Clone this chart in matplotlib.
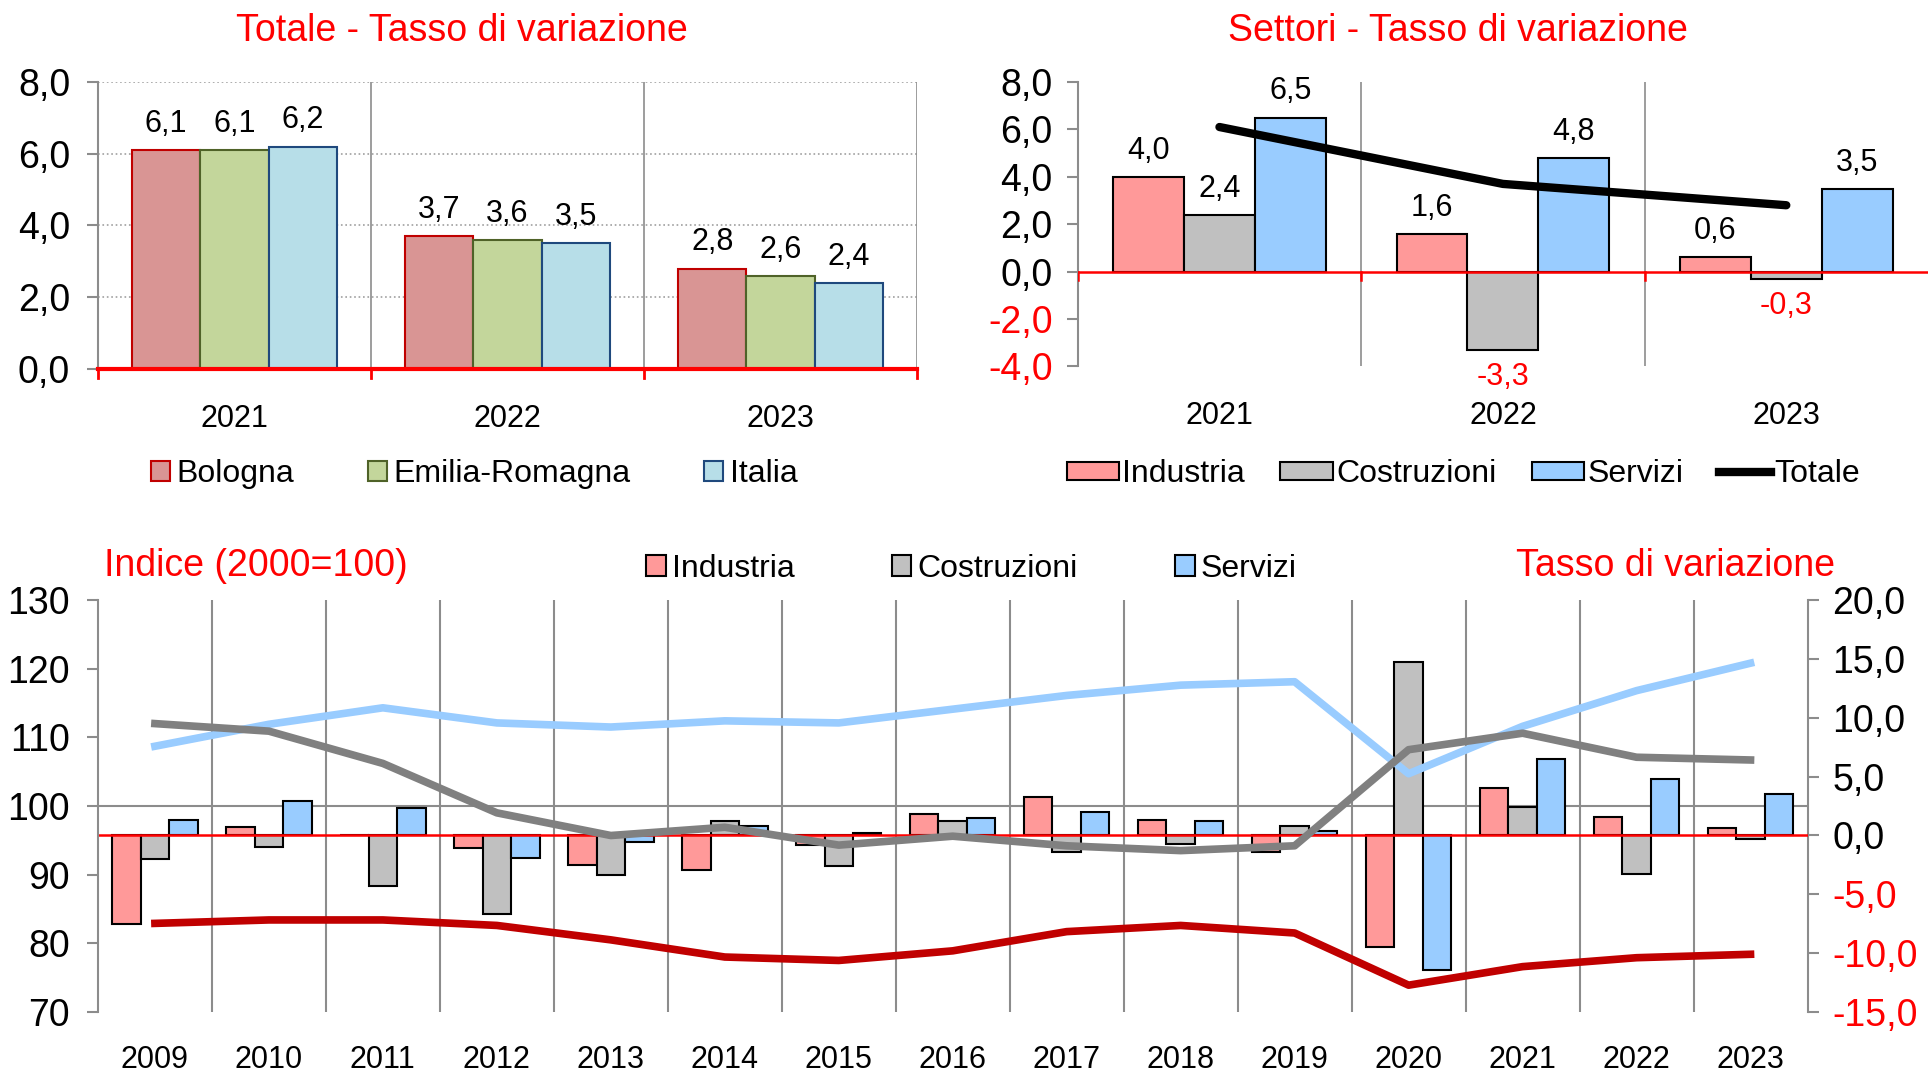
import numpy as np
import matplotlib.pyplot as plt
from matplotlib.transforms import blended_transform_factory
from matplotlib.lines import Line2D
from matplotlib.patches import Patch

plt.rcParams['font.family'] = ['Liberation Sans', 'DejaVu Sans']

# -------------------------
# Data
# -------------------------
anni_top = ['2021', '2022', '2023']
bologna = [6.1, 3.7, 2.8]
emilia = [6.1, 3.6, 2.6]
italia = [6.2, 3.5, 2.4]

ind_top = [4.0, 1.6, 0.6]
cos_top = [2.4, -3.3, -0.3]
ser_top = [6.5, 4.8, 3.5]
tot_top = [6.1, 3.7, 2.8]

anni = ['2009', '2010', '2011', '2012', '2013', '2014', '2015', '2016',
        '2017', '2018', '2019', '2020', '2021', '2022', '2023']
# tasso di variazione (barre, asse destro)
ind_var = [-7.5, 0.7, 0.0, -1.1, -2.5, -2.9, -0.8, 1.8, 3.3, 1.3, -1.4, -9.5, 4.0, 1.6, 0.6]
cos_var = [-2.0, -1.0, -4.3, -6.7, -3.4, 1.2, -2.6, 1.2, -1.4, -0.7, 0.8, 14.7, 2.4, -3.3, -0.3]
ser_var = [1.3, 2.9, 2.3, -1.9, -0.6, 0.8, 0.2, 1.5, 2.0, 1.2, 0.4, -11.4, 6.5, 4.8, 3.5]
# indice 2000=100 (linee, asse sinistro)
ind_idx = [82.9, 83.4, 83.4, 82.6, 80.5, 78.0, 77.5, 78.9, 81.7, 82.6, 81.5, 73.9, 76.6, 77.9, 78.4]
cos_idx = [112.0, 110.9, 106.2, 99.0, 95.7, 96.9, 94.3, 95.6, 94.2, 93.5, 94.2, 108.2, 110.6, 107.1, 106.7]
ser_idx = [108.7, 111.9, 114.3, 112.1, 111.5, 112.4, 112.1, 114.1, 116.1, 117.6, 118.1, 104.7, 111.6, 116.8, 120.8]

# colours
C_BOL, E_BOL = '#d99594', '#c00000'
C_EMI, E_EMI = '#c3d69b', '#4f6228'
C_ITA, E_ITA = '#b7dee8', '#1f497d'
C_IND, C_COS, C_SER = '#ff9999', '#c0c0c0', '#99ccff'
L_IND, L_COS, L_SER = '#c00000', '#808080', '#99ccff'
GRID = '#8c8c8c'
RED = '#ff0000'


def fmt(v):
    return f'{v:.1f}'.replace('.', ',')


fig = plt.figure(figsize=(19.28, 10.73), dpi=100)

# -------------------------
# Top left: Totale
# -------------------------
ax1 = fig.add_axes([0.0508, 0.6561, 0.4248, 0.2675])
x = np.arange(len(anni_top))
w = 0.25
for off, vals, fc, ec, lab in [(-w, bologna, C_BOL, E_BOL, 'Bologna'),
                               (0, emilia, C_EMI, E_EMI, 'Emilia-Romagna'),
                               (w, italia, C_ITA, E_ITA, 'Italia')]:
    bars = ax1.bar(x + off, vals, w, color=fc, edgecolor=ec, linewidth=1.5,
                   label=lab, zorder=3)
    for b, v in zip(bars, vals):
        ax1.annotate(fmt(v), (b.get_x() + b.get_width() / 2, v),
                     xytext=(0, 8), textcoords='offset points',
                     ha='center', va='bottom', fontsize=22)
ax1.set_xlim(-0.5, 2.5)
ax1.set_ylim(0, 8)
ax1.set_yticks([0, 2, 4, 6, 8])
ax1.set_yticklabels([fmt(v) for v in [0, 2, 4, 6, 8]])
for yv in [2, 4, 6, 8]:
    ax1.axhline(yv, color='#a0a0a0', lw=1.2, ls=':', zorder=1)
for xv in [0.5, 1.5, 2.5]:
    ax1.axvline(xv, color=GRID, lw=1.2, zorder=1)
ax1.axhline(0, color=RED, lw=3, zorder=4, clip_on=False)
for xv in [-0.5, 0.5, 1.5, 2.5]:
    ax1.plot([xv, xv], [0, -0.25], color=RED, lw=2, clip_on=False, zorder=4)
for s in ['top', 'right', 'bottom']:
    ax1.spines[s].set_visible(False)
ax1.spines['left'].set_color(GRID)
ax1.spines['left'].set_linewidth(1.5)
ax1.tick_params(axis='y', labelsize=27, color=GRID, width=1.5, length=8, pad=12)
ax1.set_xticks(x)
ax1.set_xticklabels(anni_top)
ax1.tick_params(axis='x', length=0, labelsize=22, pad=25)
fig.text(0.2397, 0.971, 'Totale - Tasso di variazione', color=RED,
         fontsize=27, ha='center', va='center')
h1, l1 = ax1.get_legend_handles_labels()
fig.legend(h1, l1, loc='center', bbox_to_anchor=(0.246, 0.558), ncol=3,
           frameon=False, fontsize=23, handlelength=0.6, handleheight=0.6,
           handletextpad=0.2, columnspacing=2.3)

# -------------------------
# Top right: Settori
# -------------------------
ax2 = fig.add_axes([0.559, 0.6585, 0.441, 0.2651])
for off, vals, fc, lab in [(-w, ind_top, C_IND, 'Industria'),
                           (0, cos_top, C_COS, 'Costruzioni'),
                           (w, ser_top, C_SER, 'Servizi')]:
    bars = ax2.bar(x + off, vals, w, color=fc, edgecolor='black', linewidth=1.5,
                   label=lab, zorder=3)
    for b, v in zip(bars, vals):
        if v >= 0:
            ax2.annotate(fmt(v), (b.get_x() + b.get_width() / 2, v),
                         xytext=(0, 8), textcoords='offset points',
                         ha='center', va='bottom', fontsize=22)
        else:
            ax2.annotate(fmt(v), (b.get_x() + b.get_width() / 2, v),
                         xytext=(0, -9), textcoords='offset points',
                         ha='center', va='top', fontsize=22, color=RED)
ax2.plot(x, tot_top, color='black', lw=6, solid_capstyle='round',
         label='Totale', zorder=5)
ax2.set_xlim(-0.5, 2.5)
ax2.set_ylim(-4, 8)
yt = [-4, -2, 0, 2, 4, 6, 8]
ax2.set_yticks(yt)
ax2.set_yticklabels([fmt(v) for v in yt])
for lab, v in zip(ax2.get_yticklabels(), yt):
    if v < 0:
        lab.set_color(RED)
for xv in [0.5, 1.5]:
    ax2.axvline(xv, color=GRID, lw=1.2, zorder=1)
ax2.axhline(0, color=RED, lw=1.8, zorder=4)
for xv in [-0.5, 0.5, 1.5]:
    ax2.plot([xv, xv], [0, -0.35], color=RED, lw=1.8, zorder=4)
for s in ['top', 'right', 'bottom']:
    ax2.spines[s].set_visible(False)
ax2.spines['left'].set_color(GRID)
ax2.spines['left'].set_linewidth(1.5)
ax2.tick_params(axis='y', labelsize=27, color=GRID, width=1.5, length=8, pad=10)
ax2.set_xticks(x)
ax2.set_xticklabels(anni_top)
ax2.tick_params(axis='x', length=0, labelsize=22, pad=25)
fig.text(0.756, 0.971, 'Settori - Tasso di variazione', color=RED,
         fontsize=27, ha='center', va='center')
h2 = [Patch(facecolor=C_IND, edgecolor='black', lw=1.5),
      Patch(facecolor=C_COS, edgecolor='black', lw=1.5),
      Patch(facecolor=C_SER, edgecolor='black', lw=1.5),
      Line2D([0], [0], color='black', lw=6)]
l2 = ['Industria', 'Costruzioni', 'Servizi', 'Totale']
fig.legend(h2, l2, loc='center', bbox_to_anchor=(0.759, 0.558), ncol=4,
           frameon=False, fontsize=23, handlelength=1.65, handleheight=0.5,
           handletextpad=0.1, columnspacing=1.1)

# -------------------------
# Bottom: indice + tasso di variazione
# -------------------------
axR = fig.add_axes([0.0508, 0.0569, 0.8867, 0.3839])
axL = axR.twinx()
axL.yaxis.tick_left()
axL.set_zorder(axR.get_zorder() + 1)
axL.patch.set_visible(False)

xb = np.arange(len(anni))
for off, vals, fc, lab in [(-w, ind_var, C_IND, 'Industria'),
                           (0, cos_var, C_COS, 'Costruzioni'),
                           (w, ser_var, C_SER, 'Servizi')]:
    axR.bar(xb + off, vals, w, color=fc, edgecolor='black', linewidth=1.5,
            label=lab, zorder=3)
axR.set_ylim(-15, 20)
axR.set_xlim(-0.5, len(anni) - 0.5)
ytr = [-15, -10, -5, 0, 5, 10, 15, 20]
axR.yaxis.tick_right()
axR.set_yticks(ytr)
axR.set_yticklabels([fmt(v) for v in ytr])
for lab, v in zip(axR.get_yticklabels(), ytr):
    if v < 0:
        lab.set_color(RED)
axR.tick_params(axis='y', labelsize=27, color=GRID, width=1.5, length=8, pad=10)
axR.axhline(0, color=RED, lw=1.8, zorder=4)
for xv in np.arange(0.5, len(anni) - 1, 1.0):
    axR.axvline(xv, color=GRID, lw=1.5, zorder=1)
axR.set_xticks(xb)
axR.set_xticklabels(anni)
axR.tick_params(axis='x', length=0, labelsize=22, pad=24)
for s in ['top', 'bottom', 'left']:
    axR.spines[s].set_visible(False)
axR.spines['right'].set_color(GRID)
axR.spines['right'].set_linewidth(1.5)

axL.plot(xb, ser_idx, color=L_SER, lw=5.5, zorder=5)
axL.plot(xb, cos_idx, color=L_COS, lw=5.5, zorder=5)
axL.plot(xb, ind_idx, color=L_IND, lw=5.5, zorder=5)
axL.set_ylim(70, 130)
axL.set_yticks([70, 80, 90, 100, 110, 120, 130])
axL.tick_params(axis='y', labelsize=27, color=GRID, width=1.5, length=8, pad=12)
axR.plot([0, 1], [100, 100], color=GRID, lw=1.5, zorder=1,
         transform=blended_transform_factory(axR.transAxes, axL.transData))
for s in ['top', 'bottom', 'right']:
    axL.spines[s].set_visible(False)
axL.spines['left'].set_color(GRID)
axL.spines['left'].set_linewidth(1.5)

fig.text(0.054, 0.4727, 'Indice (2000=100)', color=RED, fontsize=27,
         ha='left', va='center')
fig.text(0.952, 0.4727, 'Tasso di variazione', color=RED, fontsize=27,
         ha='right', va='center')
h3, l3 = axR.get_legend_handles_labels()
fig.legend(h3, l3, loc='center', bbox_to_anchor=(0.504, 0.4700), ncol=3,
           frameon=False, fontsize=23, handlelength=0.6, handleheight=0.6,
           handletextpad=0.2, columnspacing=3.05)

fig.savefig('out.png', dpi=100)
